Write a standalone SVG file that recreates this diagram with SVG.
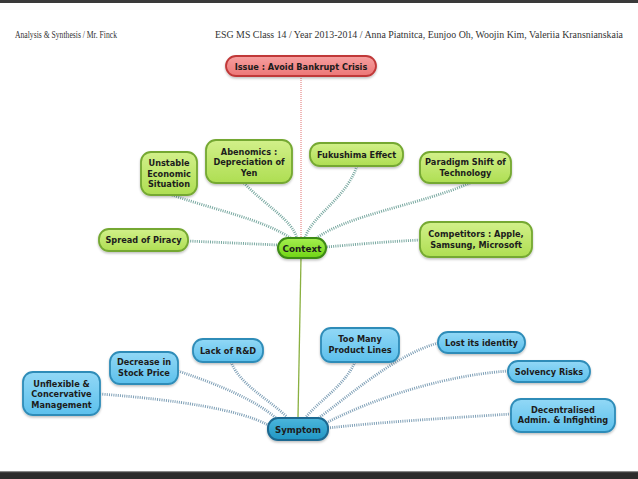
<svg xmlns="http://www.w3.org/2000/svg" width="638" height="479" viewBox="0 0 638 479">
<defs>
<linearGradient id="gG" x1="0" y1="0" x2="0" y2="1"><stop offset="0" stop-color="#d2f08a"/><stop offset="1" stop-color="#aede52"/></linearGradient>
<linearGradient id="gC" x1="0" y1="0" x2="0" y2="1"><stop offset="0" stop-color="#a6f050"/><stop offset="1" stop-color="#6fd414"/></linearGradient>
<linearGradient id="gB" x1="0" y1="0" x2="0" y2="1"><stop offset="0" stop-color="#92d8f6"/><stop offset="1" stop-color="#5cc0ec"/></linearGradient>
<linearGradient id="gS" x1="0" y1="0" x2="0" y2="1"><stop offset="0" stop-color="#4cb6dc"/><stop offset="1" stop-color="#2096c4"/></linearGradient>
<linearGradient id="gR" x1="0" y1="0" x2="0" y2="1"><stop offset="0" stop-color="#f6a0a0"/><stop offset="1" stop-color="#ec7676"/></linearGradient>
<filter id="sh" x="-20%" y="-20%" width="140%" height="160%"><feDropShadow dx="0" dy="1.5" stdDeviation="1.2" flood-color="#000" flood-opacity="0.25"/></filter>
</defs>
<style>
.hdr{font-family:"Liberation Serif",serif;font-size:10px;fill:#333}
.t{font-family:"DejaVu Sans","Liberation Sans",sans-serif;font-weight:bold;font-size:8.2px;fill:#1c1c1c;text-anchor:middle}
.g rect{fill:url(#gG);stroke:#74a830;stroke-width:1.8;filter:url(#sh)}
.b rect{fill:url(#gB);stroke:#2e8cb8;stroke-width:1.8;filter:url(#sh)}
.cg{fill:none;stroke:#78a8a0;stroke-width:2.8;stroke-dasharray:1 1.2}
.cb{fill:none;stroke:#7e9fb6;stroke-width:2.8;stroke-dasharray:1 1.2}
</style>
<rect x="0" y="0" width="638" height="479" fill="#fff"/>
<rect x="0" y="0" width="638" height="3" fill="#3a3a3a"/>
<rect x="0" y="471" width="638" height="8" fill="#2c2c2c"/>
<rect x="0" y="471" width="638" height="1.2" fill="#888"/>
<text class="hdr" x="15" y="38" textLength="102" lengthAdjust="spacingAndGlyphs">Analysis &amp; Synthesis / Mr. Finck</text>
<text class="hdr" x="215" y="38" textLength="408" lengthAdjust="spacingAndGlyphs">ESG MS Class 14 / Year 2013-2014 / Anna Piatnitca, Eunjoo Oh, Woojin Kim, Valeriia Kransnianskaia</text>

<g id="connectors">
<line x1="301" y1="76" x2="301" y2="238" stroke="#e07070" stroke-width="1" stroke-dasharray="1 1"/>
<line x1="301" y1="258" x2="298" y2="417" stroke="#8ab040" stroke-width="1.3"/>
<path class="cg" d="M172 195 C215 210 265 220 292 239"/>
<path class="cg" d="M244 183 C265 205 292 220 297 238"/>
<path class="cg" d="M357 166 C345 200 312 215 305 238"/>
<path class="cg" d="M470 183 C420 205 345 215 314 240"/>
<path class="cg" d="M188 241 L278 245"/>
<path class="cg" d="M420 240 C380 242 350 245 326 247"/>
<path class="cb" d="M100 394 C180 400 240 410 268 425"/>
<path class="cb" d="M178 371 C220 385 255 400 276 418"/>
<path class="cb" d="M231 362 C240 385 270 400 287 417"/>
<path class="cb" d="M355 362 C345 385 320 400 306 417"/>
<path class="cb" d="M438 343 C395 355 350 395 316 420"/>
<path class="cb" d="M508 371 C450 375 380 395 324 424"/>
<path class="cb" d="M511 414 C450 418 380 422 328 428"/>
</g>

<g id="issue"><rect x="226" y="56" width="150" height="20" rx="10" fill="url(#gR)" stroke="#c03838" stroke-width="1.8" filter="url(#sh)"/><text class="t" x="301" y="69.5">Issue : Avoid Bankrupt Crisis</text></g>

<g id="context"><rect x="278" y="238" width="48" height="20" rx="10" fill="url(#gC)" stroke="#3d8a12" stroke-width="2" filter="url(#sh)"/><text class="t" x="302" y="251.5" style="font-size:8.8px">Context</text></g>

<g id="unstable" class="g"><rect x="141" y="152" width="56" height="43" rx="10"/><text class="t" x="169" y="166">Unstable</text><text class="t" x="169" y="176.5">Economic</text><text class="t" x="169" y="187">Situation</text></g>
<g id="abenomics" class="g"><rect x="206" y="140" width="86" height="43" rx="10"/><text class="t" x="249" y="154.5">Abenomics :</text><text class="t" x="249" y="165">Depreciation of</text><text class="t" x="249" y="175.5">Yen</text></g>
<g id="fukushima" class="g"><rect x="310" y="143" width="93" height="23" rx="10"/><text class="t" x="356.5" y="158">Fukushima Effect</text></g>
<g id="paradigm" class="g"><rect x="420" y="152" width="91" height="31" rx="10"/><text class="t" x="465.5" y="165">Paradigm Shift of</text><text class="t" x="465.5" y="175.5">Technology</text></g>
<g id="piracy" class="g"><rect x="99" y="229" width="89" height="22" rx="10"/><text class="t" x="143.5" y="243">Spread of Piracy</text></g>
<g id="competitors" class="g"><rect x="420" y="222" width="112" height="35" rx="10"/><text class="t" x="476" y="237">Competitors : Apple,</text><text class="t" x="476" y="247.5">Samsung, Microsoft</text></g>

<g id="symptom"><rect x="268" y="418" width="60" height="22" rx="10" fill="url(#gS)" stroke="#1c6890" stroke-width="2" filter="url(#sh)"/><text class="t" x="298" y="432.5" style="font-size:8.6px">Symptom</text></g>

<g id="lackrd" class="b"><rect x="193" y="339" width="70" height="23" rx="10"/><text class="t" x="228" y="354">Lack of R&amp;D</text></g>
<g id="toomany" class="b"><rect x="321" y="328" width="78" height="34" rx="10"/><text class="t" x="360" y="342">Too Many</text><text class="t" x="360" y="352.5">Product Lines</text></g>
<g id="lost" class="b"><rect x="438" y="332" width="87" height="21" rx="10"/><text class="t" x="481.5" y="346">Lost its identity</text></g>
<g id="decrease" class="b"><rect x="110" y="352" width="68" height="32" rx="10"/><text class="t" x="144" y="365">Decrease in</text><text class="t" x="144" y="375.5">Stock Price</text></g>
<g id="solvency" class="b"><rect x="508" y="361" width="82" height="21" rx="10"/><text class="t" x="549" y="375">Solvency Risks</text></g>
<g id="unflexible" class="b"><rect x="23" y="372" width="77" height="43" rx="10"/><text class="t" x="61.5" y="386.5">Unflexible &amp;</text><text class="t" x="61.5" y="397">Concervative</text><text class="t" x="61.5" y="407.5">Management</text></g>
<g id="decentralised" class="b"><rect x="511" y="399" width="104" height="33" rx="10"/><text class="t" x="563" y="412.5">Decentralised</text><text class="t" x="563" y="423">Admin. &amp; Infighting</text></g>
</svg>
